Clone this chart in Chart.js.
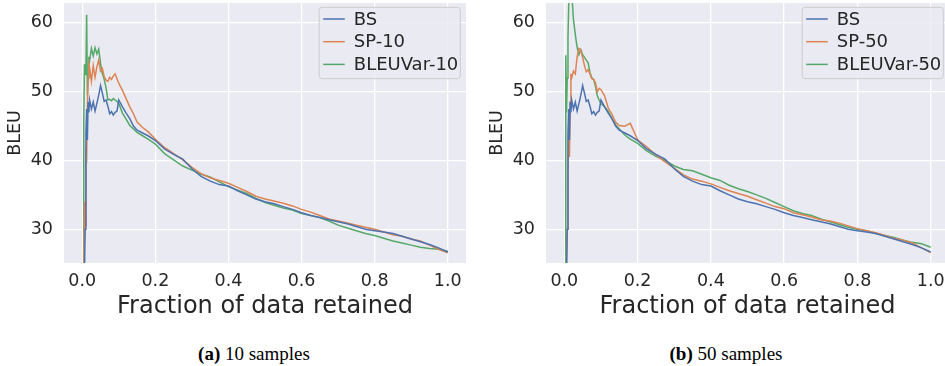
<!DOCTYPE html>
<html>
<head>
<meta charset="utf-8">
<script src="https://cdn.jsdelivr.net/npm/chart.js@4.4.0/dist/chart.umd.min.js"></script>
<style>
  body { margin: 0; width: 945px; height: 366px; overflow: hidden; background: #fff; position: relative; }
  .panel { position: absolute; top: 0; }
  .caption { position: absolute; top: 343px; font-family: "Liberation Serif", "Times New Roman", serif; font-size: 19px; line-height: 22px; color: #000; transform: translateX(-50%); white-space: nowrap; }
</style>
</head>
<body>
<canvas id="chart10" class="panel" width="470" height="325" style="left:0px"></canvas>
<canvas id="chart50" class="panel" width="467" height="325" style="left:482px"></canvas>
<div class="caption" style="left:254px"><b>(a)</b> 10 samples</div>
<div class="caption" style="left:726px"><b>(b)</b> 50 samples</div>

<script>
// fraction of data retained (shared x for every curve)
const fractionRetained = [0.002, 0.004, 0.006, 0.008, 0.010, 0.012, 0.014, 0.016, 0.018, 0.020,
  0.025, 0.030, 0.035, 0.040, 0.045, 0.050, 0.055, 0.060, 0.065, 0.070, 0.075, 0.080, 0.085, 0.090, 0.095, 0.100,
  0.110, 0.120, 0.130, 0.140, 0.150, 0.165, 0.180, 0.200,
  0.225, 0.250, 0.275, 0.300, 0.325, 0.350, 0.375, 0.400, 0.425, 0.450, 0.475, 0.500, 0.525, 0.550, 0.575, 0.600,
  0.625, 0.650, 0.675, 0.700, 0.725, 0.750, 0.775, 0.800, 0.825, 0.850, 0.875, 0.900, 0.925, 0.950, 0.975, 1.000]

// BLEU values
const bleuBS = [20, 22, 24, 30, 44, 47.5, 43, 48.5, 47, 48.8,
  47.5, 48.5, 47.2, 48.3, 49.5, 50.9, 49.8, 48.6, 48.8, 47.9, 46.8, 47.1, 46.6, 47.0, 47.2, 48.8,
  47.8, 46.9, 46.1, 45.0, 44.4, 44.0, 43.6, 42.9,
  41.7, 40.9, 40.2, 38.8, 37.7, 37.0, 36.5, 36.3, 35.6, 35.0, 34.4, 34.0, 33.7, 33.3, 32.9, 32.4,
  32.0, 31.7, 31.4, 31.1, 30.8, 30.4, 30.0, 29.8, 29.6, 29.4, 29.0, 28.6, 28.2, 27.8, 27.3, 26.7]

const bleuSP10 = [22, 24, 34, 30.5, 41, 40.5, 48, 52, 54, 53.5,
  51.5, 53.8, 52.1, 53.6, 54.6, 53.0, 53.4, 52.2, 51.7, 51.5, 52.1, 51.8, 52.3, 52.6, 51.9, 51.2,
  50.2, 49.0, 47.8, 46.8, 45.6, 44.8, 44.2, 43.1,
  41.9, 41.0, 40.1, 39.0, 38.1, 37.5, 37.1, 36.7, 36.1, 35.5, 34.8, 34.4, 34.1, 33.8, 33.4, 32.9,
  32.5, 32.0, 31.5, 31.2, 30.9, 30.6, 30.3, 30.0, 29.6, 29.2, 29.0, 28.6, 28.3, 27.7, 27.1, 26.6]

const bleuVar10 = [20, 46, 54, 52.5, 53, 61.2, 49.5, 52, 55.1, 54.5,
  56.3, 55.2, 56.4, 55.5, 56.2, 54.1, 52.6, 51.8, 50.6, 48.8, 48.9, 48.7, 49.0, 48.8, 48.6, 48.3,
  46.9, 46.0, 45.1, 44.6, 44.1, 43.6, 43.1, 42.4,
  41.0, 40.1, 39.2, 38.6, 38.0, 37.6, 36.9, 36.2, 35.7, 35.2, 34.5, 33.9, 33.5, 33.1, 32.8, 32.3,
  32.0, 31.7, 31.2, 30.6, 30.2, 29.8, 29.4, 29.1, 28.7, 28.3, 28.0, 27.7, 27.4, 27.2, 27.1, 26.8]

const bleuSP50 = [20, 22, 25, 30, 38, 44, 40.5, 48.5, 52.6, 52.0,
  53.0, 52.6, 55.1, 56.3, 56.0, 55.0, 53.8, 52.9, 53.2, 52.6, 51.9, 51.8, 51.3, 50.0, 50.5, 50.3,
  49.4, 47.6, 46.7, 45.6, 45.1, 45.0, 45.4, 43.0,
  42.0, 40.8, 39.8, 38.9, 37.9, 37.3, 37.0, 36.6, 36.1, 35.6, 35.2, 34.8, 34.3, 33.8, 33.3, 33.0,
  32.4, 32.1, 31.8, 31.4, 31.2, 30.9, 30.5, 30.1, 29.8, 29.5, 29.1, 28.7, 28.4, 28.0, 27.3, 26.6]

const bleuVar50 = [22, 55.3, 47, 52, 58, 62.5, 64, 65, 64, 64.5,
  60.5, 58.3, 56.4, 55.4, 56.1, 55.4, 55.0, 54.6, 54.2, 52.8, 52.0, 51.8, 50.8, 49.4, 48.8, 48.3,
  47.8, 47.1, 46.1, 45.2, 44.6, 43.7, 43.1, 42.5,
  41.4, 40.6, 40.0, 39.2, 38.7, 38.5, 38.0, 37.5, 37.1, 36.4, 35.9, 35.5, 35.0, 34.5, 33.9, 33.3,
  32.7, 32.3, 32.0, 31.5, 31.1, 30.7, 30.3, 30.0, 29.8, 29.4, 29.1, 28.8, 28.4, 28.1, 27.9, 27.4]

const xTicks = [0.0, 0.2, 0.4, 0.6, 0.8, 1.0]
const yTicks = [30, 40, 50, 60]

const textColor = '#262626'
const fontFamily = '"DejaVu Sans", sans-serif'

// grey seaborn background behind the plot
const greyBackground = {
  id: 'greyBackground',
  beforeDraw(chart) {
    const {ctx, chartArea} = chart
    ctx.save()
    ctx.fillStyle = '#eaeaf2'
    ctx.fillRect(chartArea.left, chartArea.top, chartArea.right - chartArea.left, chartArea.bottom - chartArea.top)
    ctx.restore()
  }
}

// legend drawn inside the plot, upper right
const innerLegend = {
  id: 'innerLegend',
  afterDatasetsDraw(chart) {
    const ctx = chart.ctx
    const area = chart.chartArea
    const datasets = chart.data.datasets
    ctx.save()
    ctx.font = '18px ' + fontFamily
    const widths = datasets.map(d => ctx.measureText(d.label).width)
    const w = 36.6 + Math.max(...widths)
    const h = 71.4
    const x0 = area.right - 5.7 - w
    const y0 = area.top + 4.3
    ctx.beginPath()
    ctx.roundRect(x0, y0, w, h, 3)
    ctx.fillStyle = 'rgba(234,234,242,0.8)'
    ctx.fill()
    ctx.strokeStyle = '#cccccc'
    ctx.lineWidth = 1
    ctx.stroke()
    datasets.forEach((d, i) => {
      const y = y0 + 11.7 + i * 22.7
      ctx.beginPath()
      ctx.moveTo(x0 + 4, y)
      ctx.lineTo(x0 + 25.6, y)
      ctx.strokeStyle = d.borderColor
      ctx.lineWidth = 1.5
      ctx.stroke()
      ctx.fillStyle = textColor
      ctx.textBaseline = 'middle'
      ctx.textAlign = 'left'
      ctx.fillText(d.label, x0 + 34.6, y + 1)
    })
    ctx.restore()
  }
}

function makeChart(canvasId, series, rightPadding) {
  const datasets = series.map(s => ({
    label: s.label,
    data: fractionRetained.map((x, i) => ({x: x, y: s.values[i]})),
    borderColor: s.color,
    backgroundColor: s.color,
    borderWidth: 1.5,
    pointRadius: 0,
    tension: 0,
    fill: false
  }))

  const config = {
    type: 'line',
    data: {datasets: datasets},
    options: {
      responsive: false,
      animation: false,
      layout: {padding: {top: 3, right: rightPadding, left: 0, bottom: 0}},
      plugins: {
        legend: {display: false},
        tooltip: {enabled: false}
      },
      scales: {
        x: {
          type: 'linear',
          min: -0.05,
          max: 1.05,
          afterBuildTicks: scale => { scale.ticks = xTicks.map(v => ({value: v})) },
          afterFit: scale => {
            scale.height = 62
            scale.paddingLeft = 0
            scale.paddingRight = 0
          },
          ticks: {
            callback: v => v.toFixed(1),
            color: textColor,
            font: {family: fontFamily, size: 17.5},
            padding: 8,
            maxRotation: 0
          },
          grid: {color: '#ffffff', lineWidth: 1.3, drawTicks: false},
          border: {display: false},
          title: {
            display: true,
            text: 'Fraction of data retained',
            color: textColor,
            font: {family: fontFamily, size: 24},
            padding: {top: 0, bottom: 4}
          }
        },
        y: {
          min: 25.1,
          max: 62.9,
          afterBuildTicks: scale => { scale.ticks = yTicks.map(v => ({value: v})) },
          afterFit: scale => {
            scale.width = 64
            scale.paddingTop = 0
            scale.paddingBottom = 0
          },
          ticks: {
            callback: v => String(v),
            color: textColor,
            font: {family: fontFamily, size: 17.5},
            padding: 11
          },
          grid: {color: '#ffffff', lineWidth: 1.3, drawTicks: false},
          border: {display: false},
          title: {
            display: true,
            text: 'BLEU',
            color: textColor,
            font: {family: fontFamily, size: 17.5},
            padding: {top: 5, bottom: 0}
          }
        }
      }
    },
    plugins: [greyBackground, innerLegend]
  }

  return new Chart(document.getElementById(canvasId), config)
}

makeChart('chart10', [
  {label: 'BS', values: bleuBS, color: '#4c72b0'},
  {label: 'SP-10', values: bleuSP10, color: '#dd8452'},
  {label: 'BLEUVar-10', values: bleuVar10, color: '#55a868'}
], 4)

makeChart('chart50', [
  {label: 'BS', values: bleuBS, color: '#4c72b0'},
  {label: 'SP-50', values: bleuSP50, color: '#dd8452'},
  {label: 'BLEUVar-50', values: bleuVar50, color: '#55a868'}
], 0)
</script>
</body>
</html>
